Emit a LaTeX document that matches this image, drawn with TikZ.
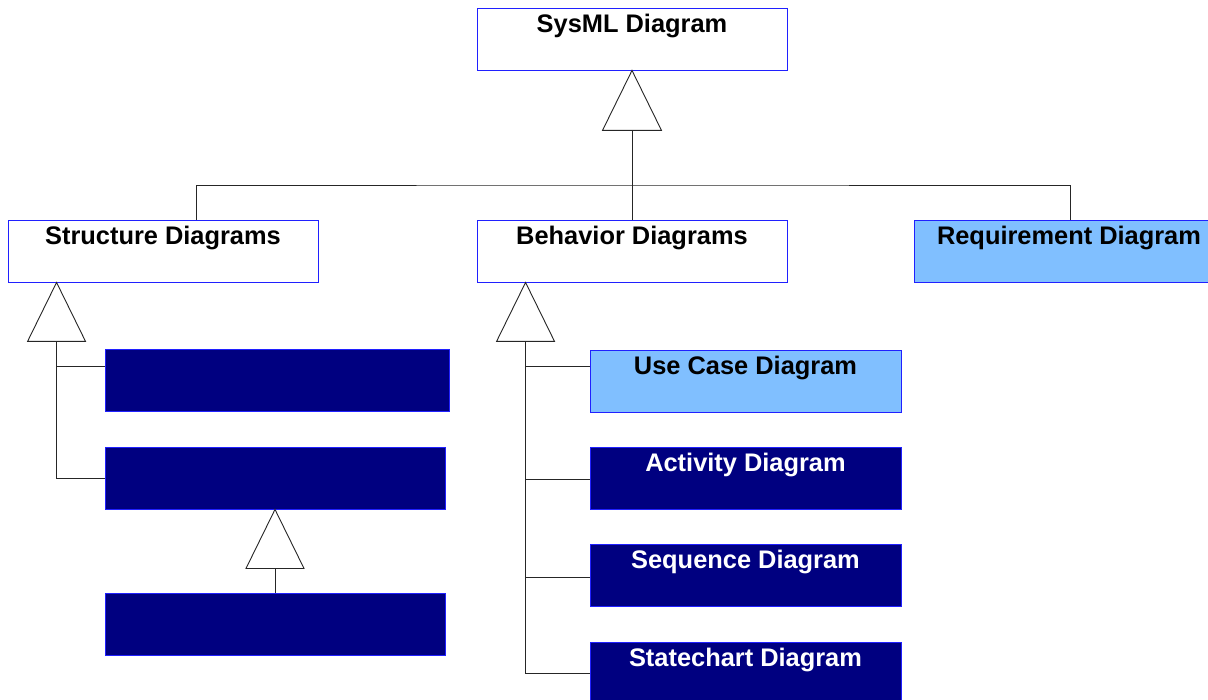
\documentclass[tikz,border=0pt]{standalone}
\usepackage{fontspec}
\setmainfont{Liberation Sans}
\definecolor{navyfill}{HTML}{000080}
\definecolor{lightfill}{HTML}{80BFFF}
\definecolor{boxline}{HTML}{2020FF}
\begin{document}
\begin{tikzpicture}[x=1pt,y=-1pt,
  box/.style={draw=boxline,line width=0.9pt,rectangle,inner sep=0pt,minimum height=62pt},
  whitebox/.style={box,fill=white},
  lightbox/.style={box,fill=lightfill},
  darkbox/.style={box,fill=navyfill},
  lbl/.style={anchor=base,inner sep=0pt,font=\fontsize{25.4}{30}\selectfont\bfseries},
  conn/.style={draw=black!85,line width=0.8pt},
  tri/.style={draw=black!85,line width=0.9pt,fill=white}]
\useasboundingbox (0,0) rectangle (1208,700);
% boxes
\node[whitebox,minimum width=310pt] (sys) at (632,39) {};
\node[whitebox,minimum width=310pt] (str) at (163,251) {};
\node[whitebox,minimum width=310pt] (beh) at (632,251) {};
\node[lightbox,minimum width=310pt] (req) at (1069,251) {};
\node[darkbox,minimum width=344pt] (d1) at (277,380.5) {};
\node[darkbox,minimum width=340pt] (d2) at (275,478) {};
\node[darkbox,minimum width=340pt] (d3) at (275,624.5) {};
\node[lightbox,minimum width=311pt] (uc) at (745.5,381) {};
\node[darkbox,minimum width=311pt] (act) at (745.5,478) {};
\node[darkbox,minimum width=311pt] (seq) at (745.5,575) {};
\node[darkbox,minimum width=311pt] (stc) at (745.5,673) {};
% labels
\node[lbl] (sysl) at ([yshift=-24.5pt]sys.north) {SysML Diagram};
\node[lbl] (strl) at ([yshift=-24.5pt]str.north) {Structure Diagrams};
\node[lbl] (behl) at ([yshift=-24.5pt]beh.north) {Behavior Diagrams};
\node[lbl] (reql) at ([yshift=-24.5pt]req.north) {Requirement Diagram};
\node[lbl] (ucl) at ([yshift=-24.5pt]uc.north) {Use Case Diagram};
\node[lbl,text=white] (actl) at ([yshift=-24.5pt]act.north) {Activity Diagram};
\node[lbl,text=white] (seql) at ([yshift=-24.5pt]seq.north) {Sequence Diagram};
\node[lbl,text=white] (stcl) at ([yshift=-24.5pt]stc.north) {Statechart Diagram};
% top generalization
\coordinate (t1) at ([yshift=-60pt]sys.south);
\coordinate (bus) at (632,185);
\coordinate (sn) at ([xshift=33pt]str.north);
\coordinate (rn) at ([xshift=1pt]req.north);
\draw[conn] (t1) -- (beh.north);
\draw[conn] (sn) |- (bus) -| (rn);
\draw[tri] (sys.south) -- ++(29.5,60) -- ++(-59,0) -- cycle;
% structure tree
\coordinate (sa) at ([xshift=49pt]str.south west);
\coordinate (sb) at ([yshift=-59pt]sa);
\draw[conn] (sb) |- (d2.west);
\draw[conn] (sb) |- ([yshift=14.5pt]d1.west);
\draw[tri] (sa) -- ++(29,59) -- ++(-58,0) -- cycle;
\coordinate (ta) at ([yshift=-59pt]d2.south);
\draw[conn] (ta) -- (d3.north);
\draw[tri] (d2.south) -- ++(29,59) -- ++(-58,0) -- cycle;
% behavior tree
\coordinate (ba) at ([xshift=49pt]beh.south west);
\coordinate (bb) at ([yshift=-59pt]ba);
\draw[conn] (bb) |- (stc.west);
\draw[conn] (bb) |- ([yshift=15pt]uc.west);
\draw[conn] (bb) |- ([yshift=-1pt]act.west);
\draw[conn] (bb) |- ([yshift=-2pt]seq.west);
\draw[tri] (ba) -- ++(29,59) -- ++(-58,0) -- cycle;
\end{tikzpicture}
\end{document}
